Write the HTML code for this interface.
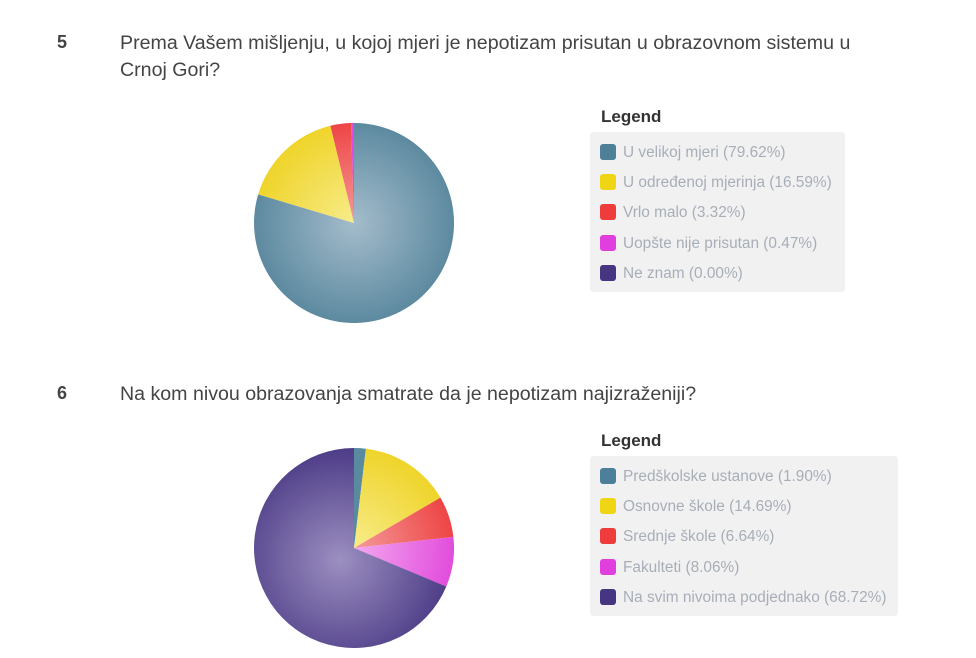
<!DOCTYPE html>
<html><head><meta charset="utf-8"><style>
body{margin:0;width:976px;height:658px;background:#fff;font-family:"Liberation Sans",sans-serif;position:relative;overflow:hidden}
.n{position:absolute;left:57px;font-size:18px;font-weight:bold;color:#444}
.q{position:absolute;left:120px;font-size:19.6px;color:#444;line-height:27px}
.lt{position:absolute;left:601px;font-size:17px;font-weight:bold;color:#333}
.lb{position:absolute;left:590px;background:#f1f1f1;border-radius:3px}
.r{position:absolute;left:10px;font-size:15.4px;color:#a8aeb8;white-space:nowrap;line-height:16px}
.r i{position:absolute;left:0;top:1px;width:16px;height:16px;border-radius:3px}
.r span{position:absolute;left:23px;top:2px}
</style></head><body>
<div class="n" style="top:32px">5</div>
<div class="q" style="top:30px">Prema Vašem mišljenju, u kojoj mjeri je nepotizam prisutan u obrazovnom sistemu u<br>Crnoj Gori?</div>
<div class="n" style="top:383px">6</div>
<div class="q" style="top:381px">Na kom nivou obrazovanja smatrate da je nepotizam najizraženiji?</div>

<svg width="976" height="658" style="position:absolute;left:0;top:0">
<defs>
<radialGradient id="gb" cx="354" cy="223" r="100" gradientUnits="userSpaceOnUse"><stop offset="0" stop-color="#a4bccb"/><stop offset="1" stop-color="#5d8aa0"/></radialGradient>
<radialGradient id="gy" cx="354" cy="223" r="100" gradientUnits="userSpaceOnUse"><stop offset="0" stop-color="#f7ec8a"/><stop offset="1" stop-color="#efd42a"/></radialGradient>
<radialGradient id="gr" cx="354" cy="223" r="100" gradientUnits="userSpaceOnUse"><stop offset="0" stop-color="#f59a9a"/><stop offset="1" stop-color="#ee4545"/></radialGradient>
<radialGradient id="gy2" cx="354" cy="548" r="100" gradientUnits="userSpaceOnUse"><stop offset="0" stop-color="#f7ec8a"/><stop offset="1" stop-color="#efd42a"/></radialGradient>
<radialGradient id="gr2" cx="354" cy="548" r="100" gradientUnits="userSpaceOnUse"><stop offset="0" stop-color="#f59a9a"/><stop offset="1" stop-color="#ee4545"/></radialGradient>
<radialGradient id="gp2" cx="354" cy="548" r="100" gradientUnits="userSpaceOnUse"><stop offset="0" stop-color="#f3a8ef"/><stop offset="1" stop-color="#e24ddc"/></radialGradient>
<radialGradient id="gv2" cx="340" cy="560" r="110" gradientUnits="userSpaceOnUse"><stop offset="0" stop-color="#9c8fc0"/><stop offset="1" stop-color="#4e3d88"/></radialGradient>
</defs>
<path d="M354 223 L354 123 A100 100 0 1 1 258.2 194.4 Z" fill="url(#gb)"/>
<path d="M354 223 L258.2 194.4 A100 100 0 0 1 330.4 125.8 Z" fill="url(#gy)"/>
<path d="M354 223 L330.4 125.8 A100 100 0 0 1 351.05 123.04 Z" fill="url(#gr)"/>
<path d="M354 223 L351.05 123.04 A100 100 0 0 1 354 123 Z" fill="#e04ddc"/>

<path d="M354 548 L354 448 A100 100 0 0 1 365.9 448.7 Z" fill="#5a8aa0"/>
<path d="M354 548 L365.9 448.7 A100 100 0 0 1 440.4 497.6 Z" fill="url(#gy2)"/>
<path d="M354 548 L440.4 497.6 A100 100 0 0 1 453.4 536.9 Z" fill="url(#gr2)"/>
<path d="M354 548 L453.4 536.9 A100 100 0 0 1 446.3 586.5 Z" fill="url(#gp2)"/>
<path d="M354 548 L446.3 586.5 A100 100 0 1 1 354 448 Z" fill="url(#gv2)"/>
</svg>

<div class="lt" style="top:107px">Legend</div>
<div class="lb" style="top:132px;width:255px;height:160px">
<div class="r" style="top:11px"><i style="background:#4d7f99"></i><span>U velikoj mjeri (79.62%)</span></div>
<div class="r" style="top:41px"><i style="background:#f0d514"></i><span>U određenoj mjerinja (16.59%)</span></div>
<div class="r" style="top:71px"><i style="background:#ee3b3b"></i><span>Vrlo malo (3.32%)</span></div>
<div class="r" style="top:102px"><i style="background:#e13fdd"></i><span>Uopšte nije prisutan (0.47%)</span></div>
<div class="r" style="top:132px"><i style="background:#463580"></i><span>Ne znam (0.00%)</span></div>
</div>

<div class="lt" style="top:431px">Legend</div>
<div class="lb" style="top:456px;width:308px;height:160px">
<div class="r" style="top:11px"><i style="background:#4d7f99"></i><span>Predškolske ustanove (1.90%)</span></div>
<div class="r" style="top:41px"><i style="background:#f0d514"></i><span>Osnovne škole (14.69%)</span></div>
<div class="r" style="top:71px"><i style="background:#ee3b3b"></i><span>Srednje škole (6.64%)</span></div>
<div class="r" style="top:102px"><i style="background:#e13fdd"></i><span>Fakulteti (8.06%)</span></div>
<div class="r" style="top:132px"><i style="background:#463580"></i><span>Na svim nivoima podjednako (68.72%)</span></div>
</div>
</body></html>
